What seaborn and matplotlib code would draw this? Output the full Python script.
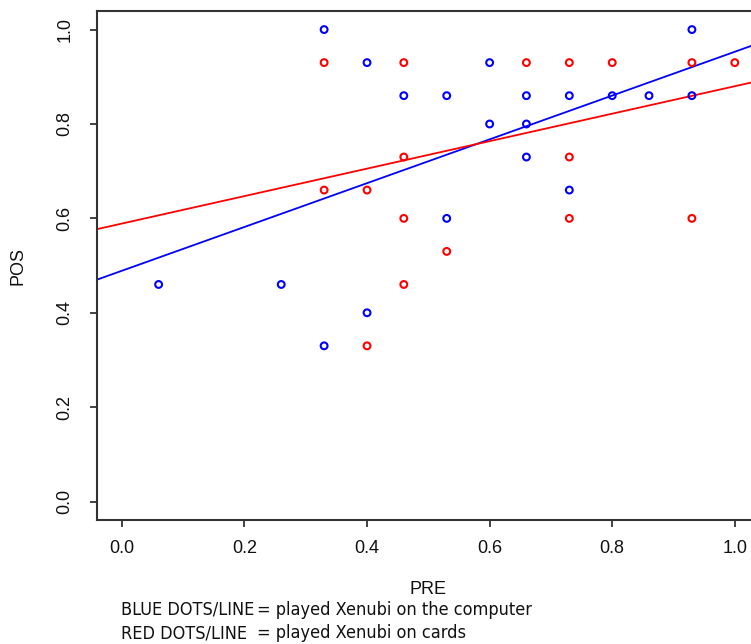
import matplotlib
matplotlib.use('Agg')
import matplotlib.pyplot as plt
import pandas as pd
import seaborn as sns

# Data
blue_pre = [0.33, 0.93, 0.40, 0.60, 0.46, 0.53, 0.66, 0.73, 0.80, 0.86, 0.93,
            0.60, 0.66, 0.66, 0.73, 0.53, 0.06, 0.26, 0.40, 0.33]
blue_pos = [1.00, 1.00, 0.93, 0.93, 0.86, 0.86, 0.86, 0.86, 0.86, 0.86, 0.86,
            0.80, 0.80, 0.73, 0.66, 0.60, 0.46, 0.46, 0.40, 0.33]
red_pre = [0.33, 0.46, 0.66, 0.73, 0.80, 0.93, 1.00, 0.46, 0.73, 0.33, 0.40,
           0.46, 0.73, 0.93, 0.53, 0.46, 0.40]
red_pos = [0.93, 0.93, 0.93, 0.93, 0.93, 0.93, 0.93, 0.73, 0.73, 0.66, 0.66,
           0.60, 0.60, 0.60, 0.53, 0.46, 0.33]

# fitted lines as drawn in the picture (intercept, slope)
blue_fit = [0.489, 0.464]
red_fit = [0.589, 0.291]

ticks = [0.0, 0.2, 0.4, 0.6, 0.8, 1.0]
tick_labels = ['0.0', '0.2', '0.4', '0.6', '0.8', '1.0']

sns.set_style('ticks')
plt.rcParams['font.family'] = ['Liberation Sans', 'DejaVu Sans']

df_blue = pd.DataFrame({'PRE': blue_pre, 'POS': blue_pos})
df_red = pd.DataFrame({'PRE': red_pre, 'POS': red_pos})

fig = plt.figure(figsize=(7.51, 6.44), dpi=100)
ax = fig.add_axes([0.1296, 0.1918, 0.8815, 0.7916])

for d, col in [(df_blue, 'blue'), (df_red, 'red')]:
    sns.scatterplot(data=d, x='PRE', y='POS', ax=ax, marker='o', s=24,
                    facecolor='none', edgecolor=col, linewidth=1.5, zorder=3)

for fit, col in [(blue_fit, 'blue'), (red_fit, 'red')]:
    ax.axline((0, fit[0]), slope=fit[1], color=col, lw=1.3, zorder=2)

ax.set_xlim(-0.04, 1.04)
ax.set_ylim(-0.04, 1.04)
ax.set_xticks(ticks)
ax.set_xticklabels(tick_labels)
ax.set_yticks(ticks)
ax.set_yticklabels(tick_labels, rotation=90, va='center')
ax.tick_params(axis='both', length=5, width=1.2, labelsize=13,
               color='#222222', labelcolor='#111111')
ax.tick_params(axis='x', pad=9)
ax.tick_params(axis='y', pad=12)
for side in ['left', 'bottom', 'top']:
    ax.spines[side].set_linewidth(1.5)
    ax.spines[side].set_color('#333333')
ax.spines['right'].set_visible(False)

ax.set_xlabel('PRE', fontsize=13, labelpad=17, color='#111111')
ax.set_ylabel('POS', fontsize=13, labelpad=22, color='#111111')

note = dict(family='DejaVu Sans', fontstretch='condensed', fontsize=13,
            va='center', color='#111111')
fig.text(121 / 751, 1 - 610 / 644, 'BLUE DOTS/LINE', **note)
fig.text(121 / 751, 1 - 633 / 644, 'RED DOTS/LINE', **note)
fig.text(257 / 751, 1 - 610 / 644, '= played Xenubi on the computer', **note)
fig.text(257 / 751, 1 - 633 / 644, '= played Xenubi on cards', **note)

fig.savefig('out.png', dpi=100)
